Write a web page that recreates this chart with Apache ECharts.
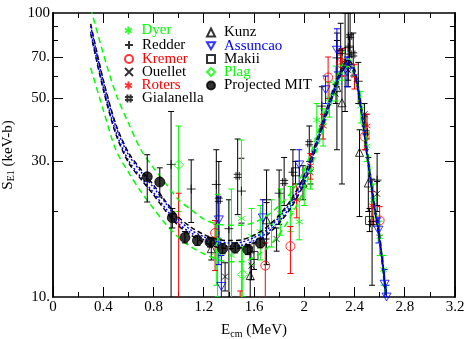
<!DOCTYPE html>
<html>
<head>
<meta charset="utf-8">
<title>S-factor</title>
<script src="https://cdn.jsdelivr.net/npm/echarts@6/dist/echarts.min.js"></script>
</head>
<body style="margin:0">
<div id="main" style="width:471px;height:339px;"></div>
<script>
// rows: [E, S, lower error end, upper error end]
var dyer = [[1.31,16.0,10,23],[1.42,14.0,9,24],[1.50,18.9,9,35.7],[1.58,16.4,13,20.5],[1.65,17.0,13.5,21],
  [1.74,18.1,15,22],[1.81,19.7,16.5,24],[1.89,20.2,17,24.5],[1.96,18.4,15.9,22],[2.00,24.5,21,28],
  [2.05,28,24,32],[2.10,42,36,48],[2.15,40,34,46],[2.20,50,43,57],[2.25,57,49,65],[2.30,65,58,73],
  [2.45,47,41,53],[2.50,34,30,38],[2.55,22,19,25],[2.60,16.3,14,18.5],[2.63,12.5,11,14]];
var redder = [[0.94,29.3,9,45],[1.10,24.0,18.3,30.4],[1.30,24.9,15.5,33],[1.40,17.4,9,22],[1.50,23.6,18.2,30.8],
  [1.70,22.0,13,28],[1.80,23.2,18,28],[1.91,27.5,22,33],[2.14,47,40,55],[2.26,69.5,55,85],
  [2.35,75.5,55,100],[2.43,57.5,48,67],[2.58,25.8,20,32]];
var kremer = [[1.00,8,4,23.2],[1.29,16.8,12.4,18.6],[1.49,8,5,10.5],[1.69,12.9,9,15.5],[1.89,15.1,12.1,17.7],
  [2.19,59.3,50,70],[2.29,66.8,60,74],[2.48,36.7,33,40.5],[2.60,18.6,16.5,20.8]];
var ouellet = [[1.37,11.8,10.5,13.2],[1.58,12.9,11.5,14.3],[1.78,16.0,14.5,17.5],[2.05,27.5,25,30],
  [2.25,52,48,56],[2.35,63,58,68],[2.48,44,40,48],[2.58,23.1,21,25.5]];
var roters = [[1.94,22.0,19,25],[2.05,29,26,32],[2.15,40,36,44],[2.30,67,60,75],[2.40,60,54,66],
  [2.50,40,36,44],[2.54,21,18,23.5]];
var gialanella = [[1.32,22.0,16,30],[1.47,26.7,19.5,36],[1.84,25.4,21,31],[2.04,34.8,30,40],[2.29,73,60,92],
  [2.365,83,70,100],[2.39,71.5,60,85],[2.49,38,33,44],[2.54,18.2,11,26]];
var kunz = [[1.26,14.8,13.5,16.2],[1.57,11.9,9,15],[1.70,18.7,16,21.5],[1.99,25.2,22,29],[2.26,54.6,33,80],
  [2.30,48.3,25,75],[2.325,66.8,45,100],[2.44,32.3,19.2,38.8],[2.51,25.2,20,31]];
var assuncao = [[1.32,18.7,13,22.5],[1.34,10.9,9,14],[1.67,19.0,16,22],[1.96,29.2,25,33],[2.17,53.7,48,60],
  [2.26,74,62,88],[2.34,62,55,70],[2.59,17.2,15.5,19],[2.64,11.1,9.5,12.5],[2.655,10.0,9,11]];
var makii = [[1.60,14.0,12.5,15.5],[1.93,27.6,25,30],[2.36,74,66,83],[2.52,18.6,17,20.5]];
var plag = [[1.00,29.2,20,40],[1.30,14.0,11,18],[1.51,12.0,10,15]];
var mit = [[0.75,26.5,21.6,31.7],[0.85,25.4,22.5,28.5],[0.95,19.0,17.5,20.5],[1.05,16.2,15.5,17],
  [1.15,15.8,15.2,16.4],[1.25,15.6,15,16.2],[1.35,14.8,14.2,15.4],[1.45,14.9,14.3,15.5],
  [1.55,14.7,14.1,15.3],[1.65,15.5,14.9,16.1]];

// fit bands
var bandE = [0.3,0.4,0.5,0.6,0.7,0.8,0.9,1.0,1.1,1.2,1.3,1.4,1.5,1.6,1.7,1.8,1.9,2.0,2.1,2.2,2.3,2.35,2.4,2.45,2.5,2.55,2.6,2.65];
var greenUp = [104,72,52,41,33,28.5,25,22,20.3,18.8,18.1,17.9,17.9,18.3,19.3,21,23.5,28,37,50,65,69,64,49,34,23,16.6,10.6];
var greenLo = [64,45.6,33,27.5,23.5,20.5,18,16.2,15,14.2,13.6,13.3,13.3,13.8,14.8,16.6,19.5,24,33,46,61,65,60,45.5,31,21.3,15.5,10];
var blackUp = [91.5,58.2,40.6,32.3,28.1,24.8,21.6,19.1,17.6,16.6,16.0,15.8,15.9,16.5,17.6,19.4,22.2,26.8,35.8,49.0,64.2,68.3,63.2,47.9,32.6,22.4,16.3,10.45];
var blackLo = [84.6,53.8,37.5,29.8,26.0,22.9,20.0,17.8,16.5,15.6,15.0,14.8,14.9,15.5,16.5,18.2,20.8,25.2,34.3,47.1,61.8,65.8,60.9,46.1,31.4,21.6,15.7,10.15];
var blueUp = [90.0,57.3,39.9,31.7,27.6,24.3,21.3,18.7,17.2,16.3,15.7,15.5,15.6,16.2,17.2,19.1,21.8,26.4,35.3,48.5,63.6,67.6,62.6,47.5,32.3,22.2,16.15,10.38];
var blueLo = [86.0,54.8,38.2,30.3,26.4,23.3,20.4,18.1,16.8,15.9,15.3,15.1,15.2,15.8,16.8,18.5,21.2,25.6,34.7,47.5,62.4,66.4,61.4,46.5,31.7,21.8,15.85,10.22];

var yLabels = [10, 30, 50, 70, 100];
var yMajor = [30, 50, 70];
var yMinor = [20, 40, 60, 80, 90];

var G = '#00ff00', R = '#ff0000', B = '#0000ff', K = '#000000';
var FONT = 'Liberation Serif';

var STAR = 'path://M5,0L5,10M0.67,2.5L9.33,7.5M0.67,7.5L9.33,2.5';
var PLUS = 'path://M0,5L10,5M5,0L5,10';
var CROSS = 'path://M0,0L10,10M0,10L10,0';
var HASH = 'path://M3,0L3,10M7,0L7,10M0,3L10,3M0,7L10,7';
var TRI_DOWN = 'path://M0,0L10,0L5,8.66Z';

function errBars(rows, color, z) {
  return {
    type: 'custom', data: rows, clip: true, silent: true, z: z || 2,
    encode: { x: 0, y: 1 },
    renderItem: function (params, api) {
      var x = api.value(0);
      var top = api.coord([x, api.value(3)]);
      var bot = api.coord([x, api.value(2)]);
      var st = { stroke: color, lineWidth: 1 };
      return { type: 'group', children: [
        { type: 'line', shape: { x1: top[0], y1: top[1], x2: bot[0], y2: bot[1] }, style: st },
        { type: 'line', shape: { x1: top[0] - 3, y1: top[1], x2: top[0] + 3, y2: top[1] }, style: st },
        { type: 'line', shape: { x1: bot[0] - 3, y1: bot[1], x2: bot[0] + 3, y2: bot[1] }, style: st }
      ] };
    }
  };
}

function marks(name, rows, symbol, size, color, filled, z) {
  return {
    name: name, type: 'scatter', z: z || 3, symbol: symbol, symbolSize: size, symbolKeepAspect: true,
    data: rows.map(function (r) { return [r[0], r[1]]; }),
    itemStyle: { color: filled ? color : 'transparent', borderColor: color, borderWidth: 1 }
  };
}

function band(xs, ys, color, type) {
  return {
    type: 'line', silent: true, z: 4, smooth: 0.3, showSymbol: false,
    data: xs.map(function (e, i) { return [e, ys[i]]; }),
    lineStyle: { color: color, width: 1.5, type: type }
  };
}

var myChart = echarts.init(document.getElementById('main'));

// legend entries: name, text colour, column, row centre (px)
var legendNames = ['Dyer', 'Redder', 'Kremer', 'Ouellet', 'Roters', 'Gialanella',
                   'Kunz', 'Assuncao', 'Makii', 'Plag', 'Projected MIT'];
var legendColors = [G, K, R, K, R, K, K, B, K, G, K];
var legendLeft = [124, 124, 124, 124, 124, 124, 206, 206, 206, 206, 206];
var legendRow = [29.5, 44, 58, 71, 84.5, 97.5, 31.5, 44.7, 58, 71, 84.5];

var legends = legendNames.map(function (n, i) {
  return {
    data: [{ name: n, textStyle: { color: legendColors[i] } }],
    left: legendLeft[i], top: legendRow[i] - 6.5, padding: 0,
    itemWidth: 8, itemHeight: 8, selectedMode: false,
    textStyle: { fontFamily: FONT, fontSize: 15, lineHeight: 13, padding: [0, 0, 0, 4] }
  };
});

var axisLine = { show: true, lineStyle: { color: K, width: 1.5 } };

function yAx(pos, ticks, len, labels) {
  return {
    type: 'log', logBase: 10, min: 10, max: 100, position: pos,
    axisLine: axisLine, splitLine: { show: false },
    axisTick: { show: true, inside: true, length: len, customValues: ticks, lineStyle: { color: K } },
    axisLabel: labels ? {
      show: true, customValues: yLabels, margin: 3,
      formatter: function (v) { v = Math.round(v); return v >= 100 ? '100' : v + '.'; },
      fontFamily: FONT, fontSize: 15, color: K
    } : { show: false },
    name: labels ? '{a|S}{b|E1}{a| (keV-b)}' : '', nameLocation: 'middle', nameGap: 30, nameRotate: 90,
    nameTextStyle: { rich: {
      a: { fontFamily: FONT, fontSize: 15, color: K },
      b: { fontFamily: FONT, fontSize: 10, color: K, padding: [8, 0, 0, 0] }
    } }
  };
}

function xAx(pos, labels) {
  return {
    type: 'value', min: 0, max: 3.2, interval: 0.4, position: pos,
    axisLine: axisLine, splitLine: { show: false },
    axisTick: { show: true, inside: true, length: 10, lineStyle: { color: K } },
    minorTick: { show: true, splitNumber: 2, length: 5, lineStyle: { color: K } },
    axisLabel: labels ? {
      show: true, margin: 3, fontFamily: FONT, fontSize: 15, color: K,
      formatter: function (v) { var r = Math.round(v * 10) / 10; return String(r); }
    } : { show: false },
    name: labels ? '{a|E}{b|cm}{a| (MeV)}' : '', nameLocation: 'middle', nameGap: 24,
    nameTextStyle: { rich: {
      a: { fontFamily: FONT, fontSize: 15, color: K },
      b: { fontFamily: FONT, fontSize: 10, color: K, padding: [8, 0, 0, 0] }
    } }
  };
}

var option = {
  animation: false,
  backgroundColor: '#ffffff',
  grid: { left: 53, right: 16, top: 13, bottom: 42, containLabel: false, outerBoundsMode: 'none' },
  xAxis: [xAx('bottom', true), xAx('top', false)],
  yAxis: [yAx('left', yMajor, 10, true), yAx('left', yMinor, 5, false),
          yAx('right', yMajor, 10, false), yAx('right', yMinor, 5, false)],
  legend: legends,
  series: [
    errBars(redder, K), errBars(ouellet, K), errBars(gialanella, K), errBars(kunz, K), errBars(makii, K),
    errBars(dyer, G), errBars(plag, G), errBars(kremer, R), errBars(roters, R), errBars(assuncao, B),
    marks('Dyer', dyer, STAR, 8, G, false),
    marks('Redder', redder, PLUS, 9, K, false),
    marks('Kremer', kremer, 'circle', 9, R, false),
    marks('Ouellet', ouellet, CROSS, 6, K, false),
    marks('Roters', roters, STAR, 8, R, false),
    marks('Gialanella', gialanella, HASH, 8, K, false),
    marks('Kunz', kunz, 'triangle', 8, K, false),
    marks('Assuncao', assuncao, TRI_DOWN, 9, B, false),
    marks('Makii', makii, 'rect', 8, K, false),
    marks('Plag', plag, 'diamond', 10, G, false),
    band(bandE, greenUp, G, [6, 4]), band(bandE, greenLo, G, [6, 4]),
    band(bandE, blackUp, K, [5, 3]), band(bandE, blackLo, K, [5, 3]),
    band(bandE, blueUp, B, [2, 2]), band(bandE, blueLo, B, [2, 2]),
    errBars(mit, K, 5),
    marks('Projected MIT', mit, 'circle', 10, K, true, 6)
  ]
};

myChart.setOption(option);
</script>
</body>
</html>
